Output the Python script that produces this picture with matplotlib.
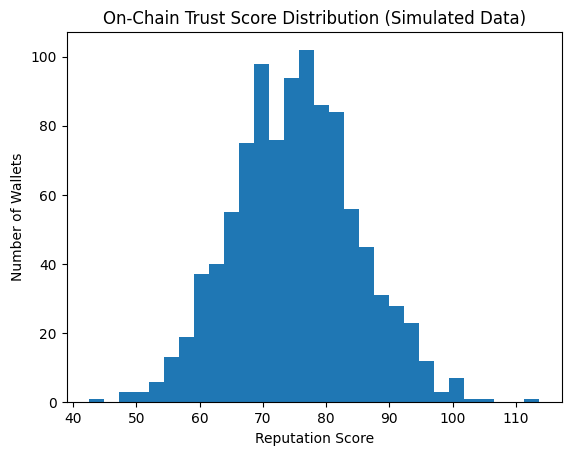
import numpy as np
import matplotlib
matplotlib.use("Agg")
import matplotlib.pyplot as plt

# Bin range and counts (30 bins)
bin_min = 42.5
bin_max = 113.7
counts = [1, 0, 3, 3, 6, 13, 19, 37, 40, 55,
          75, 98, 76, 94, 102, 86, 84, 56, 45, 31,
          28, 23, 12, 3, 7, 1, 1, 0, 0, 1]

title = "On-Chain Trust Score Distribution (Simulated Data)"
xlabel = "Reputation Score"
ylabel = "Number of Wallets"

edges = np.linspace(bin_min, bin_max, len(counts) + 1)
centers = (edges[:-1] + edges[1:]) / 2

fig = plt.figure(figsize=(5.71, 4.55), dpi=100)
ax = fig.add_axes([66.5 / 571, (455 - 402.3) / 455, (561.7 - 66.5) / 571, 370 / 455])
ax.hist(centers, bins=edges, weights=counts, color="#1f77b4")
ax.set_title(title)
ax.set_xlabel(xlabel)
ax.set_ylabel(ylabel)
fig.savefig("out.png", dpi=100)
